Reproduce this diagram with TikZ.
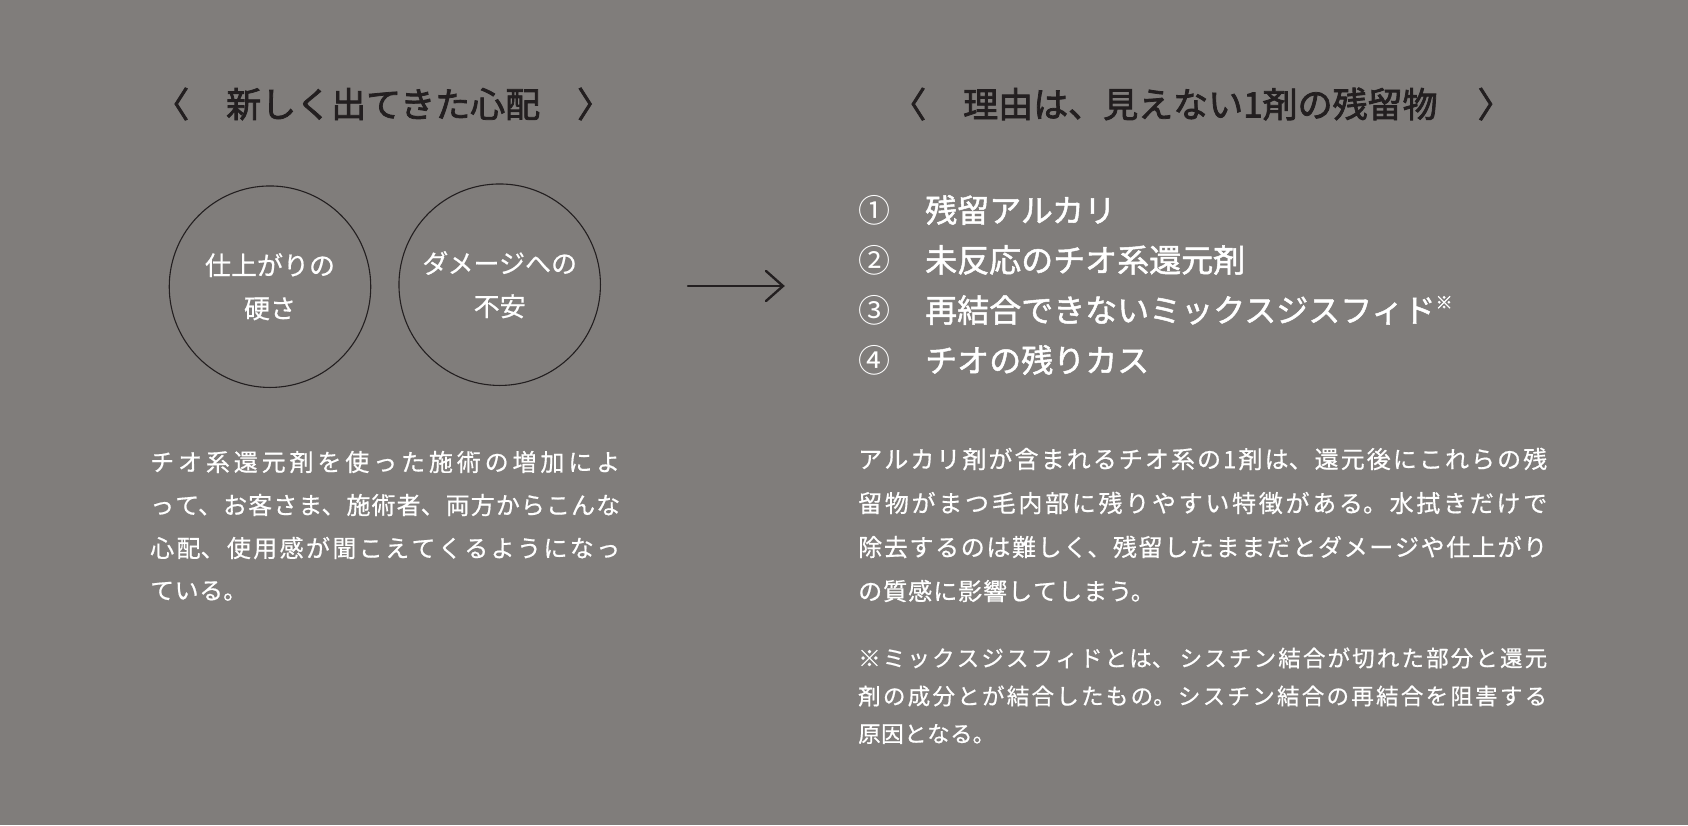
\documentclass[tikz,border=0pt]{standalone}
\usepackage{fontspec}
\setmainfont{Noto Sans CJK JP}
\newfontfamily\jpbody[FakeBold=0.6]{Noto Sans CJK JP}
\newfontfamily\jpmed[FakeBold=1.5]{Noto Sans CJK JP}
\newfontfamily\jptitle[FakeBold=2.2]{Noto Sans CJK JP}
\usetikzlibrary{arrows.meta}
\definecolor{bgc}{RGB}{128,125,123}
\definecolor{inkc}{RGB}{35,31,32}
\XeTeXlinebreaklocale "ja"
\setlength{\parindent}{0pt}
\newskip\lpskip \lpskip=0.5pt plus 10pt minus 1pt
\newskip\rpskip \rpskip=1pt plus 10pt minus 1pt
\newskip\fnskip \fnskip=0.5pt plus 10pt minus 1pt
\newcommand{\jtext}[2]{\XeTeXlinebreakskip=#1\relax #2}
\newcommand{\jfull}[2]{\XeTeXlinebreakskip=#1\relax\parfillskip=0pt\relax #2\par}
\begin{document}
\begin{tikzpicture}[x=1pt,y=-1pt,
  titletext/.style={anchor=west, inner sep=0pt, text=inkc, font=\jptitle\fontsize{35}{40}\selectfont},
  bubble/.style={circle, draw=inkc, line width=1.1pt, minimum size=201.5pt, inner sep=0pt, text=white, align=center, font=\jpbody\fontsize{26}{43}\selectfont},
  itemnum/.style={anchor=west, inner sep=0pt, text=white, font=\fontsize{32}{36}\selectfont},
  itemtext/.style={anchor=west, inner sep=0pt, text=white, font=\jpmed\fontsize{32}{36}\selectfont},
  leftpara/.style={anchor=west, inner sep=0pt, text=white, text width=470pt, align=justify, font=\jpbody\fontsize{24}{30}\selectfont},
  rightpara/.style={anchor=west, inner sep=0pt, text=white, text width=689pt, align=justify, font=\jpbody\fontsize{24}{28}\selectfont},
  notepara/.style={anchor=west, inner sep=0pt, text=white, text width=689pt, align=justify, font=\jpbody\fontsize{22.5}{26}\selectfont},
  arrowline/.style={draw=inkc, line width=2.4pt, line cap=round}
]
\fill[bgc] (0,0) rectangle (1688,825);
\useasboundingbox (0,0) rectangle (1688,825);

% titles
\node[titletext] (t1) at (154,104) {〈\hspace{37pt}新しく出てきた心配\hspace{37pt}〉};
\node[titletext] (t2) at (891,104) {〈\hspace{37pt}理由は、見えない1剤の残留物\hspace{40pt}〉};

% circles
\node[bubble] (c1) at (270,286.7) {仕上がりの\\硬さ};
\node[bubble] (c2) at (499.7,284.7) {ダメージへの\\不安};

% arrow
\coordinate (as) at (688,286);
\coordinate (ae) at (783,286);
\coordinate (ah1) at (766,271);
\coordinate (ah2) at (766,301);
\draw[arrowline] (as) -- (ae);
\draw[arrowline, line join=miter] (ah1) -- (ae) -- (ah2);

% list
\node[itemnum] (n1) at (858,210) {①};
\node[itemnum] (n2) at (858,260) {②};
\node[itemnum] (n3) at (858,310) {③};
\node[itemnum] (n4) at (858,360) {④};
\node[itemtext] (i1) at (925,210) {残留アルカリ};
\node[itemtext] (i2) at (925,260) {未反応のチオ系還元剤};
\node[itemtext] (i3) at (925,310) {再結合できないミックスジスフィド\raisebox{0.42em}{\fontsize{17}{17}\selectfont ※}};
\node[itemtext] (i4) at (925,360) {チオの残りカス};

% left paragraph
\node[leftpara] (lp1) at (150,462) {\jfull{\lpskip}{チオ系還元剤を使った施術の増加によ}};
\node[leftpara] (lp2) at (150,505) {\jfull{\lpskip}{って、お客さま、施術者、両方からこんな}};
\node[leftpara] (lp3) at (150,548) {\jfull{\lpskip}{心配、使用感が聞こえてくるようになっ}};
\node[leftpara] (lp4) at (150,591) {\jtext{\lpskip}{ている。}};

% right paragraph
\node[rightpara] (rp1) at (858,459) {\jfull{\rpskip}{アルカリ剤が含まれるチオ系の1剤は、還元後にこれらの残}};
\node[rightpara] (rp2) at (858,503) {\jfull{\rpskip}{留物がまつ毛内部に残りやすい特徴がある。水拭きだけで}};
\node[rightpara] (rp3) at (858,547) {\jfull{\rpskip}{除去するのは難しく、残留したままだとダメージや仕上がり}};
\node[rightpara] (rp4) at (858,591) {\jtext{\rpskip}{の質感に影響してしまう。}};

% footnote
\node[notepara] (fn1) at (858,658) {\jfull{\fnskip}{※ミックスジスフィドとは、 シスチン結合が切れた部分と還元}};
\node[notepara] (fn2) at (858,696) {\jfull{\fnskip}{剤の成分とが結合したもの。シスチン結合の再結合を阻害する}};
\node[notepara] (fn3) at (858,734) {\jtext{\fnskip}{原因となる。}};
\end{tikzpicture}
\end{document}
